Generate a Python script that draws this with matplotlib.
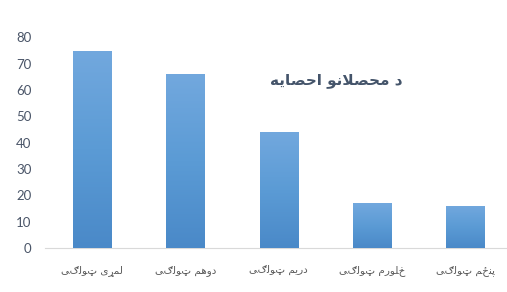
import numpy as np
import matplotlib
matplotlib.use('Agg')
import matplotlib.pyplot as plt
from matplotlib.colors import LinearSegmentedColormap

plt.rcParams['font.family'] = ['Lato', 'DejaVu Sans']

title = 'د محصلانو احصایه'
classes = ['لمړی ټولګی', 'دوهم ټولګی', 'دریم ټولګی', 'څلورم ټولګی', 'پنځم ټولګی']
students = [75, 66, 44, 17, 16]
yticks = [0, 10, 20, 30, 40, 50, 60, 70, 80]

# presentation forms: isolated, final, initial, medial
FORMS = {
    'ا': ('\uFE8D', '\uFE8E', '\uFE8D', '\uFE8E'),
    'د': ('\uFEA9', '\uFEAA', '\uFEA9', '\uFEAA'),
    'ر': ('\uFEAD', '\uFEAE', '\uFEAD', '\uFEAE'),
    'و': ('\uFEED', '\uFEEE', '\uFEED', '\uFEEE'),
    'ل': ('\uFEDD', '\uFEDE', '\uFEDF', '\uFEE0'),
    'م': ('\uFEE1', '\uFEE2', '\uFEE3', '\uFEE4'),
    'ح': ('\uFEA1', '\uFEA2', '\uFEA3', '\uFEA4'),
    'ص': ('\uFEB9', '\uFEBA', '\uFEBB', '\uFEBC'),
    'ن': ('\uFEE5', '\uFEE6', '\uFEE7', '\uFEE8'),
    'ه': ('\uFEE9', '\uFEEA', '\uFEEB', '\uFEEC'),
    'ی': ('\uFBFC', '\uFBFD', '\uFBFE', '\uFBFF'),
    'پ': ('\uFB56', '\uFB57', '\uFB58', '\uFB59'),
}
RIGHT_JOIN = set('اددذرزړژو')


def is_letter(c):
    return c is not None and '\u0600' <= c <= '\u06FF'


def shape(text):
    # matplotlib has no arabic shaping, so pick joined forms and flip the order
    out = []
    prev = None
    i = 0
    while i < len(text):
        c = text[i]
        nxt = text[i + 1] if i + 1 < len(text) else None
        if not is_letter(c):
            out.append(c)
            prev = None
            i += 1
            continue
        jp = is_letter(prev) and prev not in RIGHT_JOIN
        if c == 'ل' and nxt == 'ا':
            out.append('\uFEFC' if jp else '\uFEFB')
            prev = 'ا'
            i += 2
            continue
        jn = c not in RIGHT_JOIN and is_letter(nxt)
        idx = 3 if (jp and jn) else 1 if jp else 2 if jn else 0
        out.append(FORMS[c][idx] if c in FORMS else c)
        prev = c
        i += 1
    return ''.join(reversed(out))


fig = plt.figure(figsize=(5.07, 2.92), dpi=100)
ax = fig.add_axes([45.3 / 507, 44 / 292, 466.7 / 507, 210.5 / 292])

x = np.arange(len(classes))
bars = ax.bar(x, students, width=0.41, color='#5B9BD5', zorder=2)

cmap = LinearSegmentedColormap.from_list('g', ['#4A89C8', '#5B9BD5', '#72A8DE'])
grad = np.linspace(0, 1, 256).reshape(-1, 1)
for b in bars:
    im = ax.imshow(grad, cmap=cmap, origin='lower', aspect='auto', zorder=3,
                   extent=[b.get_x(), b.get_x() + b.get_width(), 0, b.get_height()])
    im.set_clip_path(b)

ax.set_xlim(-0.5, len(classes) - 0.5)
ax.set_ylim(0, 80)
ax.set_yticks(yticks)
ax.set_xticks(x)
ax.set_xticklabels([shape(c) for c in classes], fontsize=7.5, color='#595959',
                   family='DejaVu Sans')
ax.tick_params(axis='y', length=0, pad=10, labelsize=9.5, labelcolor='#4A5568')
ax.tick_params(axis='x', length=0, pad=12)

for s in ['top', 'right', 'left']:
    ax.spines[s].set_visible(False)
ax.spines['bottom'].set_color('#D9D9D9')

fig.text(336 / 507, 1 - 81 / 292, shape(title), ha='center', va='center',
         fontsize=11, fontweight='bold', color='#44546A', family='DejaVu Sans')

fig.savefig('out.png', dpi=100)
